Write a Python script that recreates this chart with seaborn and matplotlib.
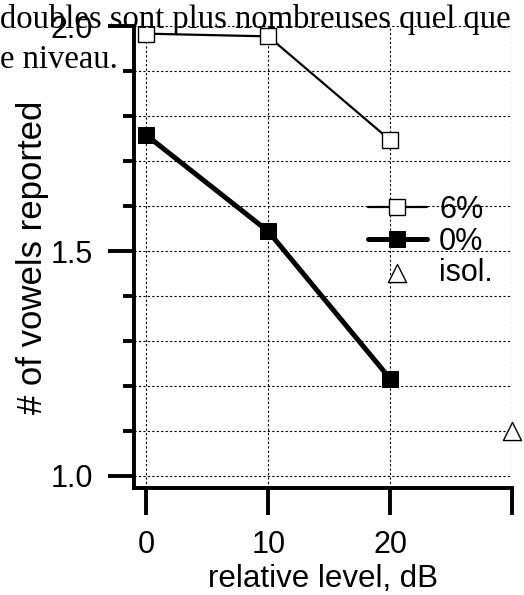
import matplotlib.pyplot as plt
import seaborn as sns
import pandas as pd
from matplotlib.ticker import MultipleLocator

# values
levels = [0, 10, 20]
vowels_6pct = [1.984, 1.978, 1.747]
vowels_0pct = [1.758, 1.544, 1.216]
isol_level = [30]
isol_vowels = [1.10]

xticks = [0, 10, 20, 30]
xticklabels = ["0", "10", "20", ""]
yticks = [1.0, 1.5, 2.0]

df6 = pd.DataFrame({"level": levels, "vowels": vowels_6pct})
df0 = pd.DataFrame({"level": levels, "vowels": vowels_0pct})
dfi = pd.DataFrame({"level": isol_level, "vowels": isol_vowels})

sns.set_style("ticks", {"axes.edgecolor": "black", "xtick.color": "black",
                        "ytick.color": "black", "text.color": "black",
                        "axes.labelcolor": "black"})
plt.rcParams["font.family"] = ["Liberation Sans", "DejaVu Sans"]

fig = plt.figure(figsize=(5.24, 5.95), dpi=100)
ax = fig.add_axes([0.2557, 0.1798, 0.7215, 0.7757])

sns.lineplot(data=df6, x="level", y="vowels", ax=ax, color="black", lw=1.6,
             marker="s", markersize=11.5, markerfacecolor="white",
             markeredgecolor="black", markeredgewidth=1.0, label="6%", zorder=3)
sns.lineplot(data=df0, x="level", y="vowels", ax=ax, color="black", lw=3.6,
             marker="s", markersize=11.5, markerfacecolor="black",
             markeredgecolor="black", label="0%", zorder=3)
sns.scatterplot(data=dfi, x="level", y="vowels", ax=ax, marker="^", s=170,
                facecolor="white", edgecolor="black", linewidth=1.0,
                label="isol.", zorder=3, clip_on=False)

ax.set_xlim(-1.02, 30.0)
ax.set_ylim(0.973, 2.0)

ax.set_xticks(xticks)
ax.set_xticklabels(xticklabels)
ax.set_yticks(yticks)
ax.yaxis.set_minor_locator(MultipleLocator(0.1))

ax.grid(True, which="both", axis="y", color="black", ls=(0, (2, 2)), lw=0.8)
ax.grid(True, which="major", axis="x", color="black", ls=(0, (2, 2)), lw=0.8)

for side in ["top", "right"]:
    ax.spines[side].set_visible(False)
for side in ["left", "bottom"]:
    ax.spines[side].set_linewidth(2.8)

ax.tick_params(axis="x", which="major", length=19.4, width=2.8, labelsize=22, pad=11)
ax.tick_params(axis="y", which="major", length=18.7, width=2.8, labelsize=22, pad=11)
ax.tick_params(axis="y", which="minor", length=8, width=2.8)

ax.set_xlabel("relative level, dB", fontsize=22.5, labelpad=3)
ax.set_ylabel("# of vowels reported", fontsize=25, labelpad=1)

leg = ax.legend(loc="upper left", bbox_to_anchor=(368 / 524, 1 - 195 / 595),
                bbox_transform=fig.transFigure, frameon=False, fontsize=22,
                handlelength=1.93, handletextpad=0.4, labelspacing=0.05,
                borderpad=0, borderaxespad=0, numpoints=1)

# overlapping text from the surrounding page
serif = ["Liberation Serif", "DejaVu Serif"]
fig.text(0.0, 1 - 28 / 595, "doubles sont plus nombreuses quel que",
         family=serif, fontsize=23.5, va="baseline")
fig.text(0.0, 1 - 68 / 595, "e niveau.", family=serif, fontsize=23.5,
         va="baseline")

fig.savefig("out.png", dpi=100)
